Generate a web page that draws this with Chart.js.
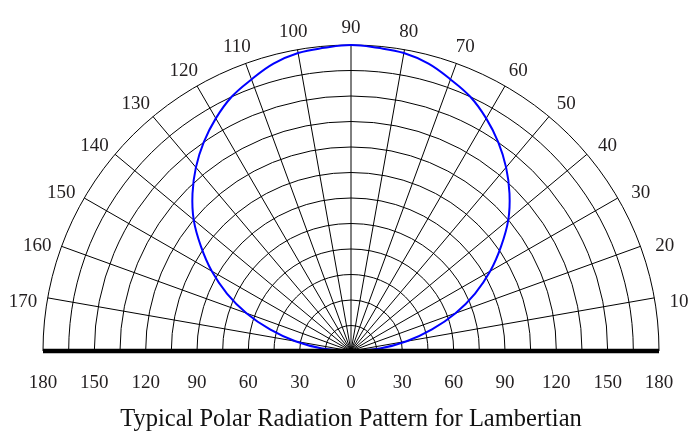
<!DOCTYPE html>
<html>
<head>
<meta charset="utf-8">
<script src="https://cdn.jsdelivr.net/npm/chart.js@4.4.1/dist/chart.umd.min.js"></script>
<style>
html,body{margin:0;padding:0;background:#ffffff;}
#wrap{width:689px;height:439px;position:relative;}
</style>
</head>
<body>
<div id="wrap"><canvas id="c" width="689" height="439"></canvas></div>
<script>
// ---- data ----
const angleLabels = [10, 20, 30, 40, 50, 60, 70, 80, 90, 100, 110, 120, 130, 140, 150, 160, 170];
const ringValues = [15, 30, 45, 60, 75, 90, 105, 120, 135, 150, 165, 180];
const radiusTicks = [-180, -150, -120, -90, -60, -30, 0, 30, 60, 90, 120, 150, 180];
const patternAngles = [0, 5, 10, 15, 20, 25, 30, 35, 40, 45, 50, 55, 60, 65, 70, 75, 80, 85, 90,
  95, 100, 105, 110, 115, 120, 125, 130, 135, 140, 145, 150, 155, 160, 165, 170, 175, 180];
const patternValues = [0, 17, 33, 49, 65, 80, 94, 107, 120, 131, 141, 150, 158, 165, 170, 175, 178, 179, 180,
  179, 178, 175, 170, 165, 158, 150, 141, 131, 120, 107, 94, 80, 65, 49, 33, 17, 0];
const titleText = 'Typical Polar Radiation Pattern for Lambertian';

// polar -> cartesian table for the library
const patternPoints = patternAngles.map((a, i) => {
  const t = a * Math.PI / 180;
  return { x: patternValues[i] * Math.cos(t), y: patternValues[i] * Math.sin(t) };
});

const SERIF = '"Liberation Serif", "Times New Roman", serif';
const TEXT_COLOR = '#231f20';

const polarGrid = {
  id: 'polarGrid',
  beforeDatasetsDraw(chart) {
    const xs = chart.scales.x, ys = chart.scales.y, ctx = chart.ctx;
    const cx = xs.getPixelForValue(0), cy = ys.getPixelForValue(0);
    const maxR = ringValues[ringValues.length - 1];
    ctx.save();
    ctx.strokeStyle = '#000000';
    ctx.lineWidth = 1;
    ringValues.forEach(v => {
      const rx = xs.getPixelForValue(v) - cx;
      const ry = cy - ys.getPixelForValue(v);
      ctx.beginPath();
      ctx.ellipse(cx, cy, rx, ry, 0, Math.PI, 2 * Math.PI);
      ctx.stroke();
    });
    angleLabels.forEach(a => {
      const t = a * Math.PI / 180;
      ctx.beginPath();
      ctx.moveTo(cx, cy);
      ctx.lineTo(xs.getPixelForValue(maxR * Math.cos(t)), ys.getPixelForValue(maxR * Math.sin(t)));
      ctx.stroke();
    });
    // angle labels
    const Rx = xs.getPixelForValue(maxR) - cx;
    const Ry = cy - ys.getPixelForValue(maxR);
    ctx.fillStyle = TEXT_COLOR;
    ctx.font = '19px ' + SERIF;
    ctx.textAlign = 'center';
    ctx.textBaseline = 'middle';
    angleLabels.forEach(a => {
      const t0 = a * Math.PI / 180;
      const c = Math.abs(Math.cos(t0));
      const t = (a - 1.2 * Math.cos(t0)) * Math.PI / 180;
      const gap = 17 + 7 * c;
      ctx.fillText(String(a), cx + (Rx + gap) * Math.cos(t), cy - (Ry + gap) * Math.sin(t) + 2 * c);
    });
    ctx.restore();
  },
  afterDatasetsDraw(chart) {
    const xs = chart.scales.x, ys = chart.scales.y, ctx = chart.ctx;
    const cy = ys.getPixelForValue(0);
    ctx.save();
    ctx.strokeStyle = '#000000';
    ctx.lineWidth = 4.5;
    ctx.beginPath();
    ctx.moveTo(xs.getPixelForValue(radiusTicks[0]), cy);
    ctx.lineTo(xs.getPixelForValue(radiusTicks[radiusTicks.length - 1]), cy);
    ctx.stroke();
    ctx.restore();
  }
};

new Chart(document.getElementById('c'), {
  type: 'scatter',
  data: {
    datasets: [{
      label: 'Lambertian',
      data: patternPoints,
      showLine: true,
      borderColor: '#0000ff',
      borderWidth: 2,
      pointRadius: 0,
      tension: 0.4,
      fill: false,
      clip: false
    }]
  },
  options: {
    responsive: false,
    animation: false,
    devicePixelRatio: 1,
    layout: { padding: { left: 43, right: 30, top: 45, bottom: 0 } },
    plugins: {
      legend: { display: false },
      tooltip: { enabled: false },
      title: {
        display: true,
        position: 'bottom',
        text: titleText,
        color: '#111111',
        font: { family: SERIF, size: 24.5, weight: 'normal' },
        padding: { top: 0, bottom: 5 }
      }
    },
    scales: {
      x: {
        type: 'linear',
        min: -180,
        max: 180,
        position: 'bottom',
        grid: { display: false, drawTicks: false },
        border: { display: false },
        afterBuildTicks: s => { s.ticks = radiusTicks.map(v => ({ value: v })); },
        afterFit: s => { s.height = 53.6; s.paddingLeft = 0; s.paddingRight = 0; },
        ticks: {
          autoSkip: false,
          maxRotation: 0,
          padding: 21,
          color: TEXT_COLOR,
          font: { family: SERIF, size: 19 },
          callback: v => String(Math.abs(v))
        }
      },
      y: { type: 'linear', min: 0, max: 180, display: false }
    }
  },
  plugins: [polarGrid]
});
</script>
</body>
</html>
